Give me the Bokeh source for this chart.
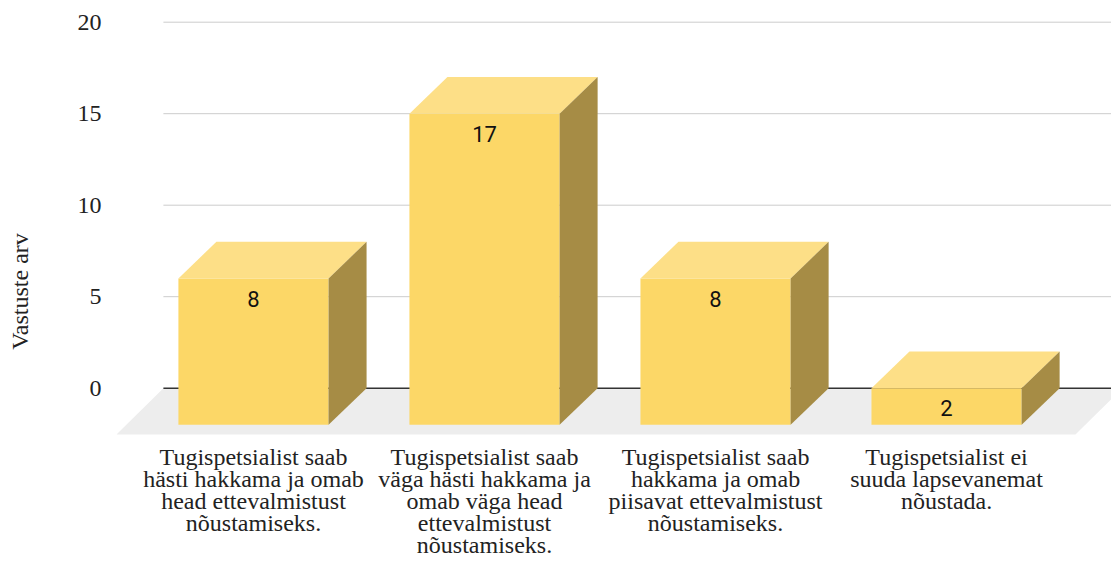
from bokeh.plotting import figure
from bokeh.models import FixedTicker, Range1d
from bokeh.core.properties import value
from bokeh.embed import file_html
from bokeh.resources import INLINE

# ---- data ----
categories = [
    "Tugispetsialist saab\nhästi hakkama ja omab\nhead ettevalmistust\nnõustamiseks.",
    "Tugispetsialist saab\nväga hästi hakkama ja\nomab väga head\nettevalmistust\nnõustamiseks.",
    "Tugispetsialist saab\nhakkama ja omab\npiisavat ettevalmistust\nnõustamiseks.",
    "Tugispetsialist ei\nsuuda lapsevanemat\nnõustada.",
]
counts = [8, 17, 8, 2]
y_ticks = [0, 5, 10, 15, 20]
y_label = "Vastuste arv"

# ---- style ----
HALF = 0.325     # half width of the front face (x units)
DX = 0.1645      # depth offset in x units
DY = 2.0         # depth offset in y units
FRONT = "#FCD767"
TOP = "#FDDF87"
SIDE = "#A68C45"

xs = list(range(len(categories)))

p = figure(width=1111, height=562,
           x_range=Range1d(-0.593, 3.714), y_range=Range1d(-9.525, 20.093),
           output_backend="svg", toolbar_location=None,
           min_border_left=116, min_border_right=0, min_border_top=20, min_border_bottom=0)
p.outline_line_color = None
p.xaxis.visible = False
p.xgrid.visible = False
p.ygrid.visible = False
p.background_fill_color = "white"

ax = p.yaxis[0]
ax.ticker = FixedTicker(ticks=y_ticks)
ax.axis_line_color = None
ax.major_tick_line_color = None
ax.minor_tick_line_color = None
ax.major_label_text_font = "Liberation Serif"
ax.major_label_text_font_size = "24px"
ax.major_label_text_color = "#222222"
ax.major_label_standoff = 9
ax.axis_label = y_label
ax.axis_label_text_font = "Liberation Serif"
ax.axis_label_text_font_size = "24px"
ax.axis_label_text_font_style = "normal"
ax.axis_label_text_color = "#222222"
ax.axis_label_standoff = 42

# gridlines
grid_x0 = -0.39
grid_x1 = 3.8
gl = [t for t in y_ticks if t != 0]
p.segment(x0=[grid_x0] * len(gl), y0=gl, x1=[grid_x1] * len(gl), y1=gl,
          line_color="#CCCCCC", line_width=1)

# floor
fl_depth = 2.53
p.patch(x=[xs[0] - 0.593, xs[0] - 0.593 + 0.203, xs[-1] + 0.558 + 0.203, xs[-1] + 0.558],
        y=[-fl_depth, 0, 0, -fl_depth], fill_color="#EDEDED", line_color=None)

# zero line
p.segment(x0=[grid_x0], y0=[0], x1=[grid_x1], y1=[0], line_color="#333333", line_width=1.5)

# bars
front_l = [x - HALF for x in xs]
front_r = [x + HALF for x in xs]
p.quad(left=front_l, right=front_r, bottom=[-DY] * len(xs), top=[v - DY for v in counts],
       fill_color=FRONT, line_color=None)
top_xs = [[l, r, r + DX, l + DX] for l, r in zip(front_l, front_r)]
top_ys = [[v - DY, v - DY, v, v] for v in counts]
p.patches(xs=top_xs, ys=top_ys, fill_color=TOP, line_color=None)
side_xs = [[r, r + DX, r + DX, r] for r in front_r]
side_ys = [[-DY, 0, v, v - DY] for v in counts]
p.patches(xs=side_xs, ys=side_ys, fill_color=SIDE, line_color=None)

# value labels
p.text(x=xs, y=[v - DY - 1.1 for v in counts], text=[str(v) for v in counts],
       text_align="center", text_baseline="middle",
       text_font=value("Roboto"), text_font_size="22px", text_color="#111111")

# category labels
p.text(x=xs, y=[-3.05] * len(xs), text=categories,
       text_align="center", text_baseline="top", text_line_height=0.85,
       text_font=value("Liberation Serif"), text_font_size="24px", text_color="#222222")

open("out.html", "w").write(file_html(p, INLINE))
